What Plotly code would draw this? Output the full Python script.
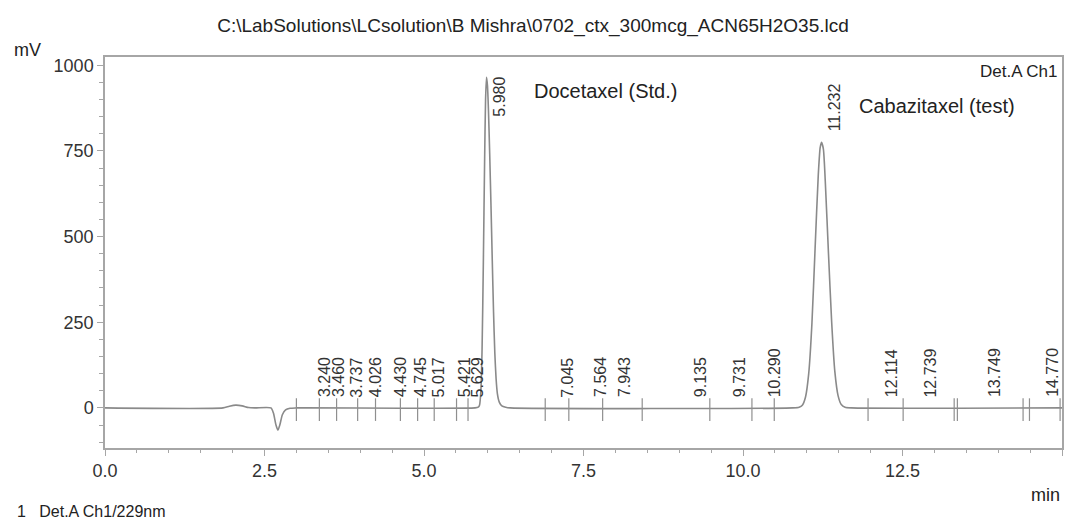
import numpy as np
import plotly.graph_objects as go

# ---- data ----
time_min = [0.0, 1.85, 1.95, 2.05, 2.15, 2.25, 2.35, 2.60, 2.64, 2.68, 2.71, 2.74, 2.78, 2.83, 2.90, 3.00,
            5.80, 5.85, 5.87, 5.89, 5.91, 5.93, 5.95, 5.965, 5.98, 5.995, 6.01, 6.03, 6.05, 6.07, 6.09, 6.11,
            6.13, 6.15, 6.18, 6.22, 6.28, 6.35,
            10.78, 10.88, 10.93, 10.98, 11.03, 11.08, 11.13, 11.18, 11.21, 11.232, 11.26, 11.29, 11.34,
            11.39, 11.44, 11.49, 11.54, 11.60, 11.70,
            15.0]
signal_mv = [0, 0, 5, 8, 6, 1, 0, 0, -15, -50, -65, -50, -20, -6, -1, 0,
             0, 2, 8, 45, 170, 420, 720, 900, 965, 940, 870, 740, 590, 430, 280, 160,
             85, 42, 17, 6, 2, 0,
             0, 2, 8, 32, 100, 245, 465, 680, 760, 775, 755, 660, 450,
             250, 105, 36, 10, 2, 0,
             0]

peak_rt = [3.240, 3.460, 3.737, 4.026, 4.430, 4.745, 5.017, 5.421, 5.629, 5.980, 7.045, 7.564, 7.943,
           9.135, 9.731, 10.290, 11.232, 12.114, 12.739, 13.749, 14.770]
peak_labels = ["3.240", "3.460", "3.737", "4.026", "4.430", "4.745", "5.017", "5.421", "5.629", "5.980",
               "7.045", "7.564", "7.943", "9.135", "9.731", "10.290", "11.232", "12.114", "12.739",
               "13.749", "14.770"]

marker_times = [3.00, 3.36, 3.63, 3.96, 4.24, 4.63, 4.90, 5.16, 5.51, 5.69, 6.90, 7.27, 7.80, 8.42,
                9.48, 10.14, 10.49, 11.96, 12.51, 13.31, 13.36, 14.39, 14.49, 14.97]

x_ticks = [0.0, 2.5, 5.0, 7.5, 10.0, 12.5, 15.0]
x_tick_text = ["0.0", "2.5", "5.0", "7.5", "10.0", "12.5", "15.0"]
y_ticks = [0, 250, 500, 750, 1000]
y_tick_text = ["0", "250", "500", "750", "1000"]

title_text = r"C:\LabSolutions\LCsolution\B Mishra\0702_ctx_300mcg_ACN65H2O35.lcd"

# ---- styling ----
FONT = "Liberation Sans, Arial, sans-serif"
TXT = "#222222"
LINE = "#8a8a8a"
FRAME = "#a6a6a6"
X_RANGE = [0, 15]
Y_RANGE = [-117, 1024]
M_L, M_R, W = 105, 2, 1066
PX_PER_MIN = (W - M_L - M_R) / (X_RANGE[1] - X_RANGE[0])

fig = go.Figure()

fig.add_trace(go.Scatter(x=time_min, y=signal_mv, mode="lines", line_shape="spline",
                         line=dict(color=LINE, width=1.6, smoothing=0.6),
                         hoverinfo="skip", showlegend=False))

# integration markers
mx, my = [], []
for t in marker_times:
    mx += [t, t, None]
    my += [-38, 28, None]
fig.add_trace(go.Scatter(x=mx, y=my, mode="lines", line=dict(color="#8f8f8f", width=1.2),
                         hoverinfo="skip", showlegend=False))

# peak labels
for rt, lab in zip(peak_rt, peak_labels):
    h = float(np.interp(rt, time_min, signal_mv))
    if h + 110 > Y_RANGE[1]:
        y, ya = h + 6, "top"
    else:
        y, ya = max(h, 0) + 25, "bottom"
    room = (X_RANGE[1] - rt) * PX_PER_MIN - 9
    fig.add_annotation(x=rt, y=y, text=lab, textangle=-90, showarrow=False,
                       xanchor="center", yanchor=ya, xshift=min(13, room),
                       font=dict(family=FONT, size=16, color="#333333"))

fig.add_annotation(x=6.69, y=924, text="Docetaxel (Std.)", showarrow=False, xanchor="left",
                   yanchor="middle", font=dict(family=FONT, size=20, color=TXT))
fig.add_annotation(x=11.78, y=880, text="Cabazitaxel (test)", showarrow=False, xanchor="left",
                   yanchor="middle", font=dict(family=FONT, size=20, color=TXT))
fig.add_annotation(xref="paper", yref="paper", x=0.998, y=0.964, text="Det.A Ch1", showarrow=False,
                   xanchor="right", yanchor="middle", font=dict(family=FONT, size=17, color=TXT))
fig.add_annotation(xref="paper", yref="paper", x=-0.097, y=1.018, text="mV", showarrow=False,
                   xanchor="left", yanchor="middle", font=dict(family=FONT, size=18, color=TXT))
fig.add_annotation(xref="paper", yref="paper", x=1.0, y=-0.12, text="min", showarrow=False,
                   xanchor="right", yanchor="middle", font=dict(family=FONT, size=18, color=TXT))
fig.add_annotation(xref="paper", yref="paper", x=-0.094, y=-0.163, text="1&nbsp;&nbsp;&nbsp;Det.A Ch1/229nm",
                   showarrow=False, xanchor="left", yanchor="middle",
                   font=dict(family=FONT, size=16, color=TXT))

axis_common = dict(showgrid=False, zeroline=False, showline=True, mirror=True,
                   linecolor=FRAME, linewidth=1.5, ticks="outside", tickcolor=FRAME,
                   tickwidth=1.2, ticklen=6, tickfont=dict(family=FONT, size=18, color="#333333"))

fig.update_layout(
    width=W, height=524,
    margin=dict(l=M_L, r=M_R, t=57, b=76),
    paper_bgcolor="white", plot_bgcolor="white",
    title=dict(text=title_text, x=0.5, xref="container", xanchor="center",
               y=1 - 25 / 524, yanchor="middle", font=dict(family=FONT, size=19, color=TXT)),
    xaxis=dict(range=X_RANGE, tickvals=x_ticks, ticktext=x_tick_text,
               minor=dict(dtick=0.5, tick0=0, ticks="outside", ticklen=3, tickcolor=FRAME),
               **axis_common),
    yaxis=dict(range=Y_RANGE, tickvals=y_ticks, ticktext=y_tick_text,
               minor=dict(dtick=50, tick0=0, ticks="outside", ticklen=4, tickcolor=FRAME),
               **axis_common),
    showlegend=False,
)

fig.write_html("out.html")
